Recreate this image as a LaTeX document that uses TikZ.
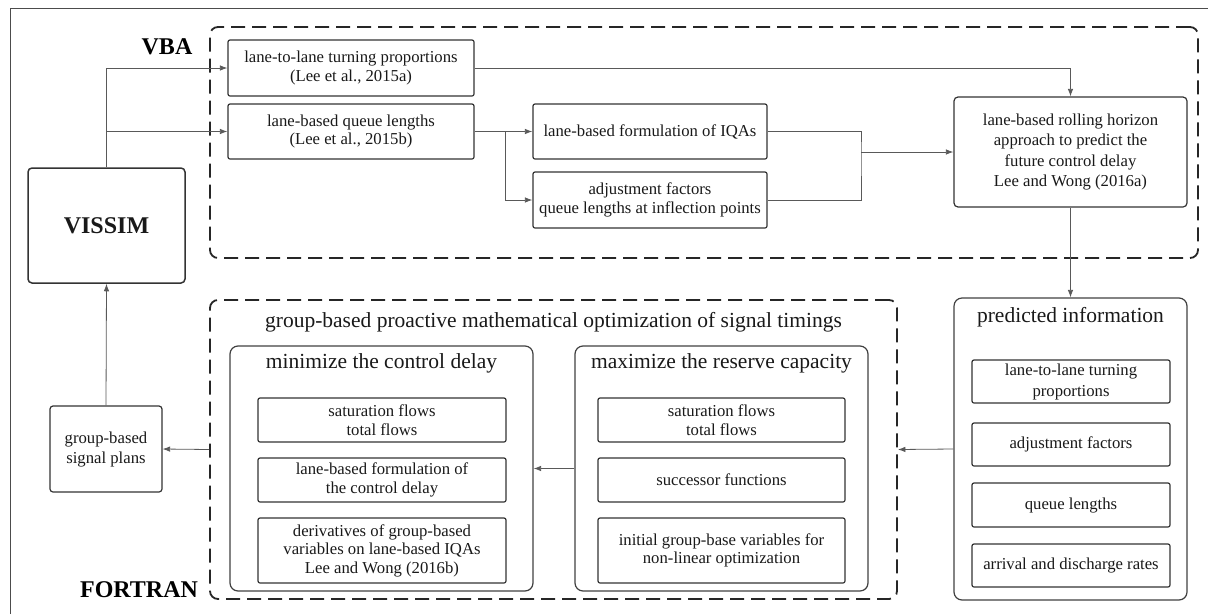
\documentclass[tikz,border=0pt]{standalone}
\usepackage{fontspec}
\setmainfont{Liberation Serif}
\usepackage{tikz}
\usetikzlibrary{arrows.meta}

\begin{document}
\begin{tikzpicture}[x=1pt,y=-1pt,
    box/.style={draw=black!80,line width=1.2pt,rounded corners=2pt,align=center,inner sep=0pt,
      font=\fontsize{16.7}{18.5}\selectfont,text=black!90},
    bigbox/.style={draw=black!75,line width=1.2pt,rounded corners=8pt,inner sep=0pt},
    dashbox/.style={draw=black!85,line width=1.8pt,dash pattern=on 14pt off 7pt,rounded corners=8pt,inner sep=0pt},
    title/.style={font=\fontsize{21.5}{25}\selectfont,text=black!90,inner sep=0pt},
    tag/.style={font=\fontsize{24}{28}\selectfont\bfseries,inner sep=0pt},
    arr/.style={draw=black!65,line width=0.8pt,-{Latex[length=7.5pt,width=5.5pt]}},
    con/.style={draw=black!65,line width=0.8pt}]
    \useasboundingbox (0,0) rectangle (1208,614);
    % frame
    \draw[black!70,line width=1pt] (10,614) -- (10,8) -- (1208,8);
    % VBA part
    \node (vba) [dashbox,minimum width=988pt,minimum height=231pt] at (704,142.5) {};
    \node (vbatag) [tag] at (167,47) {VBA};
    \node (vissim) [box,line width=1.5pt,rounded corners=4pt,minimum width=157pt,minimum height=115pt,
      font=\fontsize{24}{28}\selectfont\bfseries] at (106.5,225.5) {VISSIM};
    \node (lt) [box,minimum width=246pt,minimum height=56pt] at (351,68) {lane-to-lane turning proportions\\(Lee et al., 2015a)};
    \node (ql) [box,minimum width=246pt,minimum height=55pt] at (351,131.5) {lane-based queue lengths\\(Lee et al., 2015b)};
    \node (iqa) [box,minimum width=234pt,minimum height=55pt] at (650,131.5) {lane-based formulation of IQAs};
    \node (adj) [box,minimum width=234pt,minimum height=56pt] at (650,200) {adjustment factors\\queue lengths at inflection points};
    \node (rh) [box,rounded corners=4pt,minimum width=233pt,minimum height=110pt,font=\fontsize{16.7}{20.5}\selectfont]
      at (1070.5,152) {lane-based rolling horizon\\approach to predict the\\future control delay\\Lee and Wong (2016a)};
    \coordinate (qsplit) at (505,131.5);
    \coordinate (join) at (861,152);
    \draw[arr] (vissim.north) |- (lt.west);
    \draw[arr] (vissim.north) |- (ql.west);
    \draw[arr] (lt.east) -| (rh.north);
    \draw[con] (ql.east) -- (qsplit);
    \draw[arr] (qsplit) -- (iqa.west);
    \draw[arr] (qsplit) |- (adj.west);
    \draw[con] (iqa.east) -| (join) |- (adj.east);
    \draw[arr] (join) -- (rh.west);
    % predicted information
    \node (pred) [bigbox,minimum width=233pt,minimum height=302pt] at (1070.5,449) {};
    \node (predtitle) [title] at (1070.5,317) {predicted information};
    \node (plt) [box,minimum width=198pt,minimum height=43pt,font=\fontsize{16.7}{21}\selectfont] at (1071,381.5) {lane-to-lane turning\\proportions};
    \node (padj) [box,minimum width=198pt,minimum height=43pt] at (1071,444.5) {adjustment factors};
    \node (pql) [box,minimum width=198pt,minimum height=44pt] at (1071,505) {queue lengths};
    \node (prate) [box,minimum width=198pt,minimum height=43pt] at (1071,565.5) {arrival and discharge rates};
    % FORTRAN part
    \node (grp) [dashbox,minimum width=687pt,minimum height=299pt] at (553.5,449.5) {};
    \node (grptitle) [title] at (553.5,322) {group-based proactive mathematical optimization of signal timings};
    \node (fortag) [tag] at (139,590) {FORTRAN};
    \node (mindel) [bigbox,minimum width=303pt,minimum height=245pt] at (381.5,468.5) {};
    \node (mintitle) [title] at (381.5,363) {minimize the control delay};
    \node (msat) [box,minimum width=248pt,minimum height=44pt] at (382,420) {saturation flows\\total flows};
    \node (mform) [box,minimum width=248pt,minimum height=44pt] at (382,480) {lane-based formulation of\\the control delay};
    \node (mder) [box,minimum width=248pt,minimum height=65pt]
      at (382,550.5) {derivatives of group-based\\variables on lane-based IQAs\\Lee and Wong (2016b)};
    \node (maxcap) [bigbox,minimum width=293pt,minimum height=245pt] at (721.5,468.5) {};
    \node (maxtitle) [title] at (721.5,363) {maximize the reserve capacity};
    \node (xsat) [box,minimum width=247pt,minimum height=44pt] at (721.5,420) {saturation flows\\total flows};
    \node (xsucc) [box,minimum width=247pt,minimum height=44pt] at (721.5,480) {successor functions};
    \node (xinit) [box,minimum width=247pt,minimum height=65pt] at (721.5,550.5) {initial group-base variables for\\non-linear optimization};
    \node (plans) [box,rounded corners=3pt,minimum width=112pt,minimum height=86pt,font=\fontsize{16.7}{20}\selectfont] at (106,449) {group-based\\signal plans};
    \draw[arr] (rh.south) -- (pred.north);
    \draw[arr] (pred.west) -- (grp.east);
    \draw[arr] (maxcap.west) -- (mindel.east);
    \draw[arr] (grp.west) -- (plans.east);
    \draw[arr] (plans.north) -- (vissim.south);
\end{tikzpicture}
\end{document}
